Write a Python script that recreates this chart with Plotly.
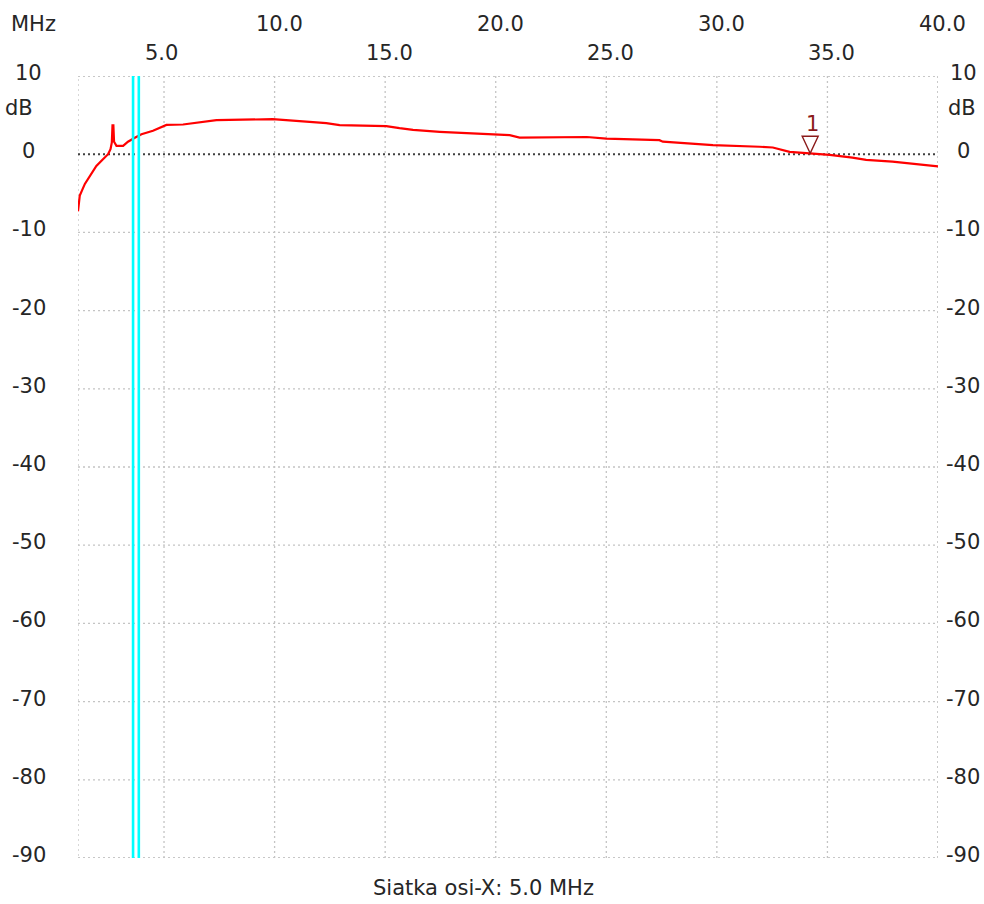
import plotly.graph_objects as go

# ---- data ----
freq_mhz = [1.11, 1.19, 1.42, 1.64, 1.94, 2.24, 2.47, 2.58, 2.64, 2.67, 2.71, 2.74, 2.85,
            3.15, 3.37, 3.68, 3.98, 4.50, 4.95, 5.11, 5.86, 6.31, 7.37, 9.91, 10.99,
            12.34, 12.94, 14.75, 15.05, 15.65, 16.26, 17.47, 18.82, 20.63, 21.08,
            23.3, 24.12, 25.0, 27.4, 27.56, 28.62, 29.82, 31.93, 32.53, 33.29, 34.19,
            35.1, 36.13, 36.75, 37.94, 38.86, 39.9, 40.0]
gain_db = [-7.3, -5.3, -3.8, -2.8, -1.5, -0.64, 0.0, 0.64, 1.5, 3.7, 3.7, 1.6, 1.06,
           1.06, 1.6, 2.1, 2.56, 3.0, 3.5, 3.75, 3.8, 3.97, 4.35, 4.48, 4.27,
           3.97, 3.72, 3.63, 3.6, 3.33, 3.1, 2.86, 2.65, 2.43, 2.13,
           2.2, 2.2, 2.0, 1.8, 1.6, 1.4, 1.15, 0.95, 0.86, 0.3, 0.13,
           -0.09, -0.43, -0.73, -0.94, -1.2, -1.5, -1.55]

cursor_mhz = [3.60, 3.86]           # cyan cursor lines
marker_mhz = 34.22                  # marker "1"
marker_db = 0.12
marker_label = "1"

x_row1_ticks = [10.0, 20.0, 30.0, 40.0]
x_row2_ticks = [5.0, 15.0, 25.0, 35.0]
y_ticks = [10, 0, -10, -20, -30, -40, -50, -60, -70, -80, -90]
x_unit = "MHz"
y_unit = "dB"
footer = "Siatka osi-X: 5.0 MHz"

X_MIN, X_MAX = 1.11, 40.0
Y_MIN, Y_MAX = -90, 10

FONT = "DejaVu Sans"
FS = 21
TXT = "#262626"
GRID = "#c4c4c4"
MARK = "#8b1a1a"

fig = go.Figure()

fig.add_trace(go.Scatter(x=freq_mhz, y=gain_db, mode="lines",
                         line=dict(color="#ff0000", width=2.2),
                         hoverinfo="skip", showlegend=False))

shapes = []
# border (dotted gray)
shapes.append(dict(type="rect", xref="x", yref="y", x0=X_MIN, x1=X_MAX, y0=Y_MIN, y1=Y_MAX,
                   line=dict(color=GRID, width=1.3, dash="2px,3px"), layer="below"))
# vertical grid
for v in x_row1_ticks + x_row2_ticks:
    shapes.append(dict(type="line", xref="x", yref="y", x0=v, x1=v, y0=Y_MIN, y1=Y_MAX,
                       line=dict(color=GRID, width=1.3, dash="2px,3px"), layer="below"))
# horizontal grid
for v in y_ticks:
    if v == 0:
        shapes.append(dict(type="line", xref="x", yref="y", x0=X_MIN, x1=X_MAX, y0=v, y1=v,
                           line=dict(color="#404040", width=2, dash="2px,3px"), layer="below"))
    else:
        shapes.append(dict(type="line", xref="x", yref="y", x0=X_MIN, x1=X_MAX, y0=v, y1=v,
                           line=dict(color=GRID, width=1.3, dash="2px,3px"), layer="below"))
# cyan cursors
for c in cursor_mhz:
    shapes.append(dict(type="line", xref="x", yref="y", x0=c, x1=c, y0=Y_MIN, y1=Y_MAX,
                       line=dict(color="#00ffff", width=2.6), layer="above"))
# marker triangle (pixel sized, tip on the curve)
shapes.append(dict(type="path", xref="x", yref="y", xsizemode="pixel", ysizemode="pixel",
                   xanchor=marker_mhz, yanchor=marker_db,
                   path="M 0 0 L -8 17 L 8 17 Z",
                   line=dict(color=MARK, width=1.4), fillcolor="rgba(0,0,0,0)", layer="above"))

ann = []
def txt(text, x, y, xref="paper", yref="paper", xanchor="center", yanchor="middle",
        xshift=0, yshift=0, color=TXT):
    ann.append(dict(text=text, x=x, y=y, xref=xref, yref=yref, xanchor=xanchor,
                    yanchor=yanchor, xshift=xshift, yshift=yshift, showarrow=False,
                    font=dict(family=FONT, size=FS, color=color)))

W, H = 984, 904
L, R, T, B = 78, 46, 76, 46
pw = W - L - R
ph = H - T - B

def px_x(px):  # figure pixel -> paper x
    return (px - L) / pw
def px_y(py):
    return (H - B - py) / ph

for v in x_row1_ticks:
    txt(f"{v:.1f}", v, px_y(23.5), xref="x", xanchor="left", xshift=-21)
for v in x_row2_ticks:
    txt(f"{v:.1f}", v, px_y(53.5), xref="x", xanchor="left", xshift=-21)
for v in y_ticks:
    txt(f"{v}", px_x(28.5), v, yref="y", yshift=3)
    txt(f"{v}", px_x(963), v, yref="y", yshift=3)
txt(x_unit, px_x(33), px_y(23.5))
txt(y_unit, px_x(18.5), px_y(107.5))
txt(y_unit, px_x(962), px_y(107.5))
txt(footer, px_x(483.5), px_y(888))
txt(marker_label, marker_mhz, marker_db, xref="x", yref="y", xshift=2, yshift=29, color=MARK)

fig.update_layout(
    width=W, height=H,
    margin=dict(l=L, r=R, t=T, b=B, pad=0),
    paper_bgcolor="white", plot_bgcolor="white",
    xaxis=dict(range=[X_MIN, X_MAX], showgrid=False, zeroline=False, showticklabels=False,
               ticks="", showline=False, fixedrange=True),
    yaxis=dict(range=[Y_MIN, Y_MAX], showgrid=False, zeroline=False, showticklabels=False,
               ticks="", showline=False, fixedrange=True),
    shapes=shapes, annotations=ann, showlegend=False,
)

fig.write_html("out.html", config={"displayModeBar": False},
               post_script="document.body.style.margin='0';document.body.style.overflow='hidden';")
